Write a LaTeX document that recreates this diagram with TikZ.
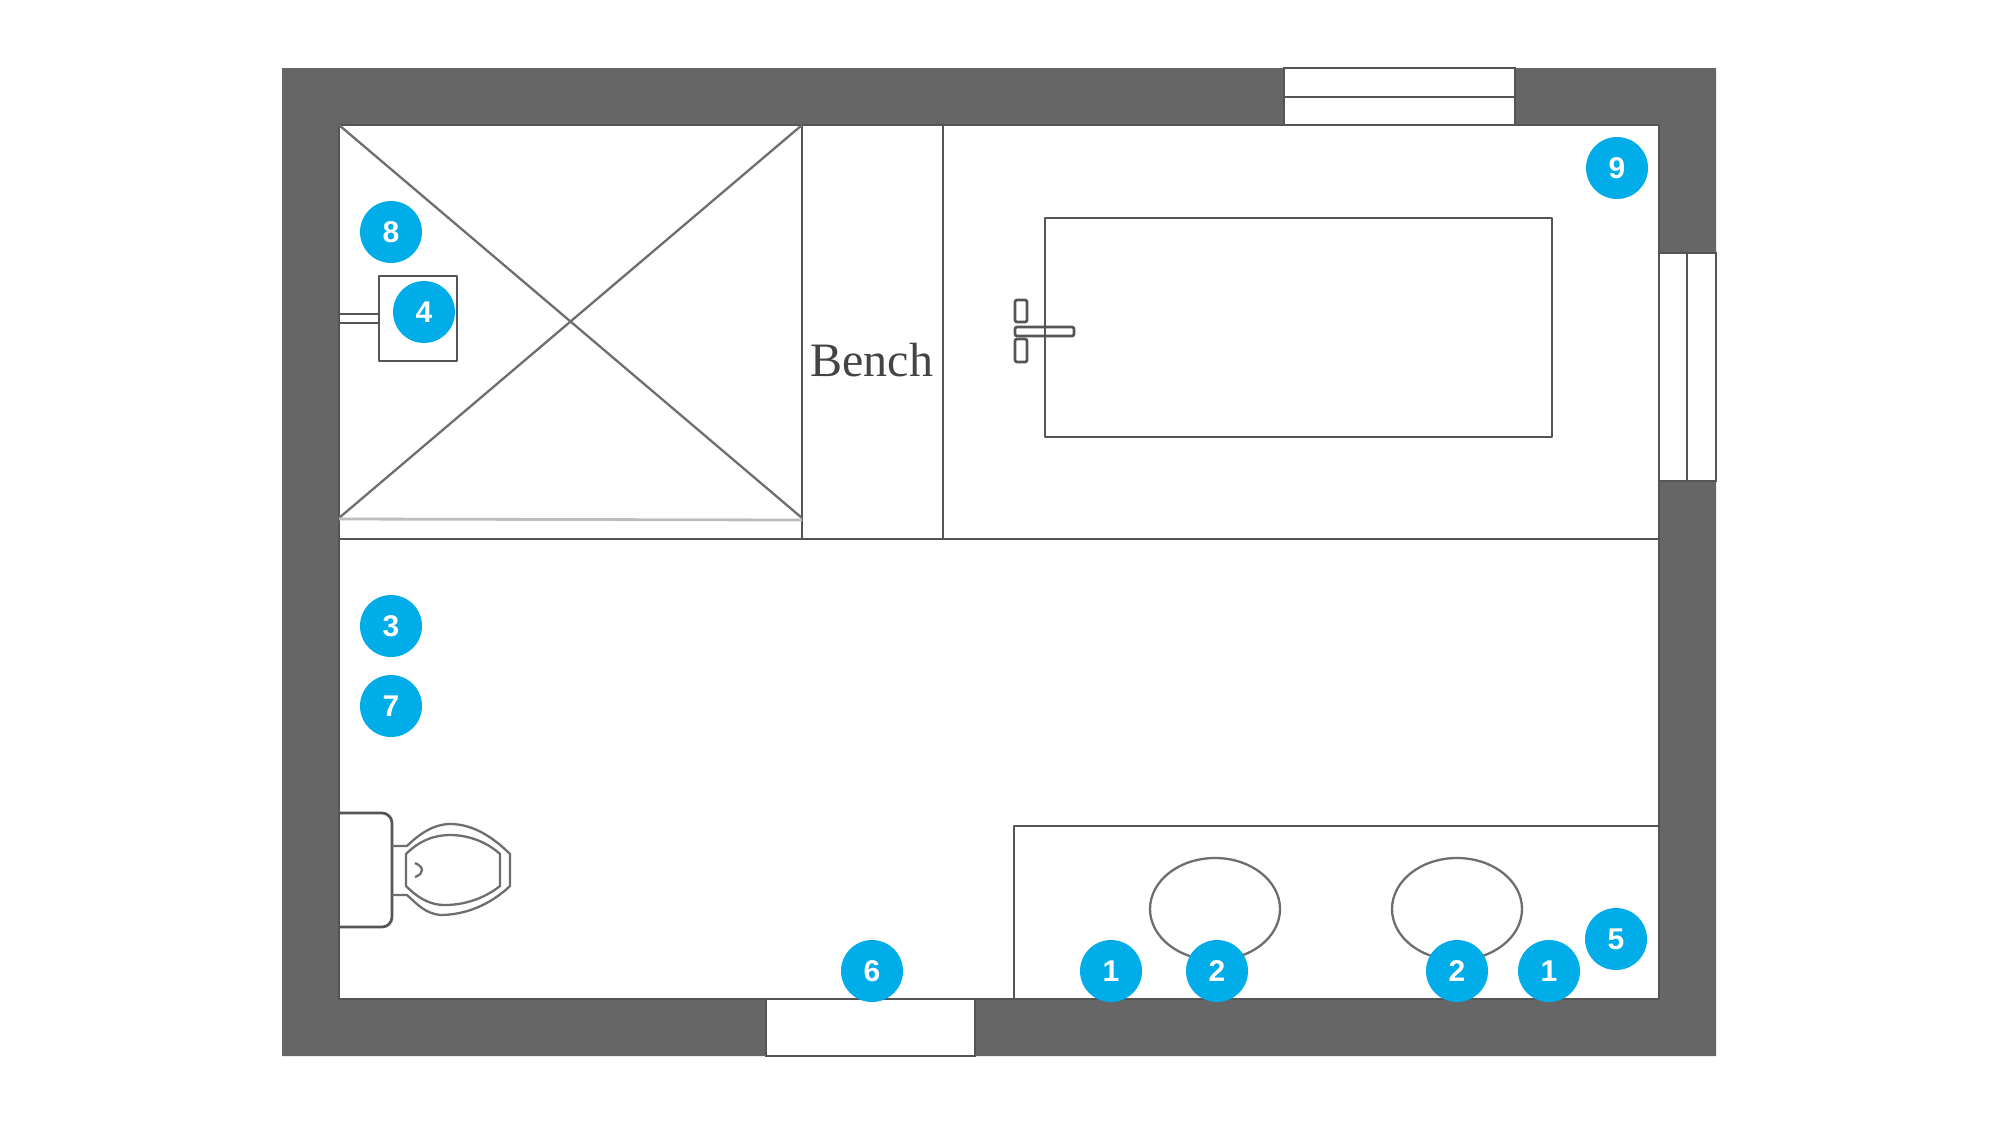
\documentclass[tikz,border=0pt]{standalone}
\usepackage{fontspec}
\newfontfamily\badgefont{Liberation Sans}
\newfontfamily\benchfont{Liberation Serif}
\definecolor{wallgrey}{HTML}{666666}
\definecolor{linegrey}{HTML}{555555}
\definecolor{softgrey}{HTML}{BDBDBD}
\definecolor{badgeblue}{HTML}{00ADE8}
\definecolor{benchgrey}{HTML}{444444}
\tikzset{
  wall/.style={fill=wallgrey,even odd rule},
  plan/.style={draw=linegrey,line width=1.35pt,line join=round},
  thinplan/.style={draw=linegrey!85,line width=1.15pt,line join=round},
  opening/.style={fill=white,draw=linegrey,line width=1.2pt},
  badge/.style={circle,fill=badgeblue,text=white,minimum size=31pt,inner sep=0pt,font=\badgefont\bfseries\fontsize{15}{15}\selectfont},
}
\begin{document}
\begin{tikzpicture}[x=0.5pt,y=-0.5pt]
\useasboundingbox (0,0) rectangle (2000,1125);
\fill[white] (0,0) rectangle (2000,1125);
% walls
\path[wall] (282,68) rectangle (1716,1056) (339,125) rectangle (1659,999);
\draw[plan] (339,125) rectangle (1659,999);
% openings
\draw[opening] (1284,68) rectangle (1515,125);
\draw[plan] (1284,97) -- (1515,97);
\draw[opening] (1659,253) rectangle (1716,481);
\draw[plan] (1687,253) -- (1687,481);
\draw[opening] (766,999) rectangle (975,1056);
% shower
\draw[plan] (339,539) -- (1659,539);
\draw[plan] (802,125) -- (802,539);
\draw[plan] (943,125) -- (943,539);
\draw[thinplan] (339,125) -- (802,518);
\draw[thinplan] (802,125) -- (339,518);
\draw[softgrey,line width=1.4pt] (339,519) -- (802,520);
\draw[plan] (379,276) rectangle (457,361);
\draw[plan] (339,314) -- (379,314);
\draw[plan] (339,323) -- (379,323);
% bench
\node[anchor=base west,inner sep=0pt,text=benchgrey,font=\benchfont\fontsize{24}{24}\selectfont] (bench) at (810,376) {Bench};
% tub
\draw[plan] (1045,218) rectangle (1552,437);
\draw[plan,rounded corners=1pt] (1015,300) rectangle (1027,322);
\draw[plan,rounded corners=1pt] (1015,339) rectangle (1027,362);
\draw[plan,rounded corners=1pt] (1015,327) rectangle (1074,336);
% vanity
\draw[plan] (1014,999) -- (1014,826) -- (1659,826);
\draw[thinplan] (1215,909) ellipse [x radius=65,y radius=51];
\draw[thinplan] (1457,909) ellipse [x radius=65,y radius=51];
% toilet
\draw[plan,rounded corners=5pt] (339,813) -- (392,813) -- (392,927) -- (339,927);
\draw[thinplan] (392,846) -- (407,846) .. controls (425,828) and (440,824) .. (450,824)
  .. controls (470,824) and (490,834) .. (510,854) -- (510,886)
  .. controls (490,905) and (465,915) .. (440,915)
  .. controls (425,913) and (418,905) .. (407,895) -- (392,895);
\draw[thinplan] (406,854) .. controls (420,840) and (435,835) .. (450,835)
  .. controls (470,835) and (488,843) .. (500,854) -- (500,886)
  .. controls (485,898) and (465,905) .. (445,905)
  .. controls (428,905) and (416,896) .. (406,886) -- cycle;
\draw[thinplan] (415,863) .. controls (420,865) and (422,868) .. (422,870)
  .. controls (422,873) and (420,875) .. (415,877);
% badges
\node[badge] (b8) at (391,232) {8};
\node[badge] (b4) at (424,312) {4};
\node[badge] (b9) at (1617,168) {9};
\node[badge] (b3) at (391,626) {3};
\node[badge] (b7) at (391,706) {7};
\node[badge] (b6) at (872,971) {6};
\node[badge] (b1a) at (1111,971) {1};
\node[badge] (b2a) at (1217,971) {2};
\node[badge] (b2b) at (1457,971) {2};
\node[badge] (b1b) at (1549,971) {1};
\node[badge] (b5) at (1616,939) {5};
\end{tikzpicture}
\end{document}
